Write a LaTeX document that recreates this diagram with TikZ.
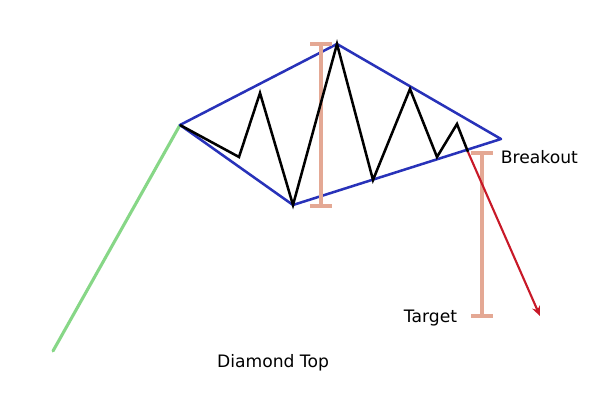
\documentclass[tikz,border=0pt]{standalone}
\usepackage{fontspec}
\setmainfont{DejaVu Sans}
\usetikzlibrary{arrows.meta}
\definecolor{trendblue}{RGB}{40,50,185}
\definecolor{upgreen}{RGB}{135,215,135}
\definecolor{barsalmon}{RGB}{228,168,148}
\definecolor{downred}{RGB}{200,25,40}

\begin{document}
\begin{tikzpicture}[x=0.025cm, y=-0.025cm, every node/.style={font=\fontsize{12.2}{14}\selectfont}]
	\useasboundingbox (0,0) rectangle (600,400);
	% diamond corners
	\coordinate (L) at (180,125);
	\coordinate (T) at (337,44);
	\coordinate (R) at (501,139);
	\coordinate (B) at (293,205);
	\coordinate (brk) at (468,152);
	\draw[upgreen, line width=2.2pt, line cap=round] (53,351) -- (L);
	\draw[trendblue, line width=1.8pt, line join=round] (L) -- (T) -- (R) -- (B) -- cycle;
	% measuring bars
	\foreach \x/\ya/\yb in {321/44/206, 482/153/316} {
		\draw[barsalmon, line width=2.5pt] (\x,\ya) -- (\x,\yb);
		\draw[barsalmon, line width=2.5pt] (\x-11,\ya) -- (\x+11,\ya);
		\draw[barsalmon, line width=2.5pt] (\x-11,\yb) -- (\x+11,\yb);
	}
	\draw[black, line width=1.8pt, line join=miter] (L) -- (239,157) -- (260,93) -- (B) -- (T) -- (373,180) -- (410,89) -- (437,157) -- (457,124) -- (brk);
	\draw[downred, line width=1.5pt, -{Stealth[length=7pt, width=6pt]}] (brk) -- (540,316);
	\node[anchor=west] (breakout) at (496,157) {Breakout};
	\node[anchor=east] (target) at (462,318) {Target};
	\node (title) at (273,363) {Diamond Top};
\end{tikzpicture}
\end{document}
